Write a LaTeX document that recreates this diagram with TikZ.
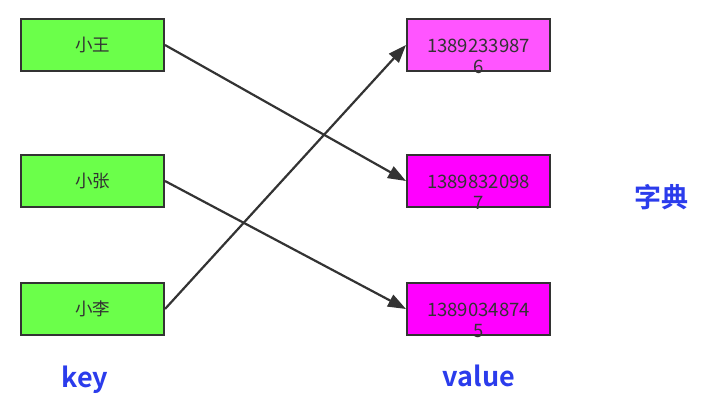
\documentclass[tikz,border=0pt]{standalone}
\usepackage{fontspec}
\setmainfont{Noto Sans CJK SC}[BoldFont={Noto Sans CJK SC Bold}]
\usetikzlibrary{arrows.meta}
\definecolor{keygreen}{HTML}{6BFF4A}
\definecolor{valpink}{HTML}{FF55FF}
\definecolor{valmagenta}{HTML}{FF00FF}
\definecolor{edgegray}{HTML}{333333}
\definecolor{capblue}{HTML}{2B3CEC}
\tikzset{box/.style={ % Sets the properties for each entry
draw=edgegray,
line width=2pt,
minimum width=143pt,
minimum height=52pt,
inner sep=0pt,
text=edgegray,
font=\fontsize{17.5}{20}\selectfont},
keybox/.style={box, fill=keygreen},
valbox/.style={box, fill=valmagenta},
num/.style={ % Phone number, wrapped and pushed down
label={[yshift=-11pt, align=center, text=edgegray,
font=\fontsize{18.5}{21}\selectfont]center:#1}},
caption/.style={text=capblue, font=\fontsize{27}{32}\selectfont\bfseries},
map/.style={ % Sets the properties for each mapping
draw=edgegray,
line width=2.2pt,
-{Triangle[length=18pt,width=13pt]}}}

\begin{document}
\begin{tikzpicture}[x=1pt,y=-1pt]
\useasboundingbox (0,0) rectangle (706,403);
% keys
\node[keybox] (wang) at (92.5,45) {小王};
\node[keybox] (zhang) at (92.5,181) {小张};
\node[keybox] (li) at (92.5,309) {小李};
% values
\node[valbox, fill=valpink, num={1389233987\\6}] (v1) at (478.5,45) {};
\node[valbox, num={1389832098\\7}] (v2) at (478.5,181) {};
\node[valbox, num={1389034874\\5}] (v3) at (478.5,309) {};
% captions
\node[caption] (key) at (85,380) {key};
\node[caption] (value) at (479,376) {value};
\node[caption] (dict) at (661,197) {字典};
\draw[map] (wang.east) -- (v2.west);
\draw[map] (zhang.east) -- (v3.west);
\draw[map] (li.east) -- (v1.west);
\end{tikzpicture}
\end{document}
